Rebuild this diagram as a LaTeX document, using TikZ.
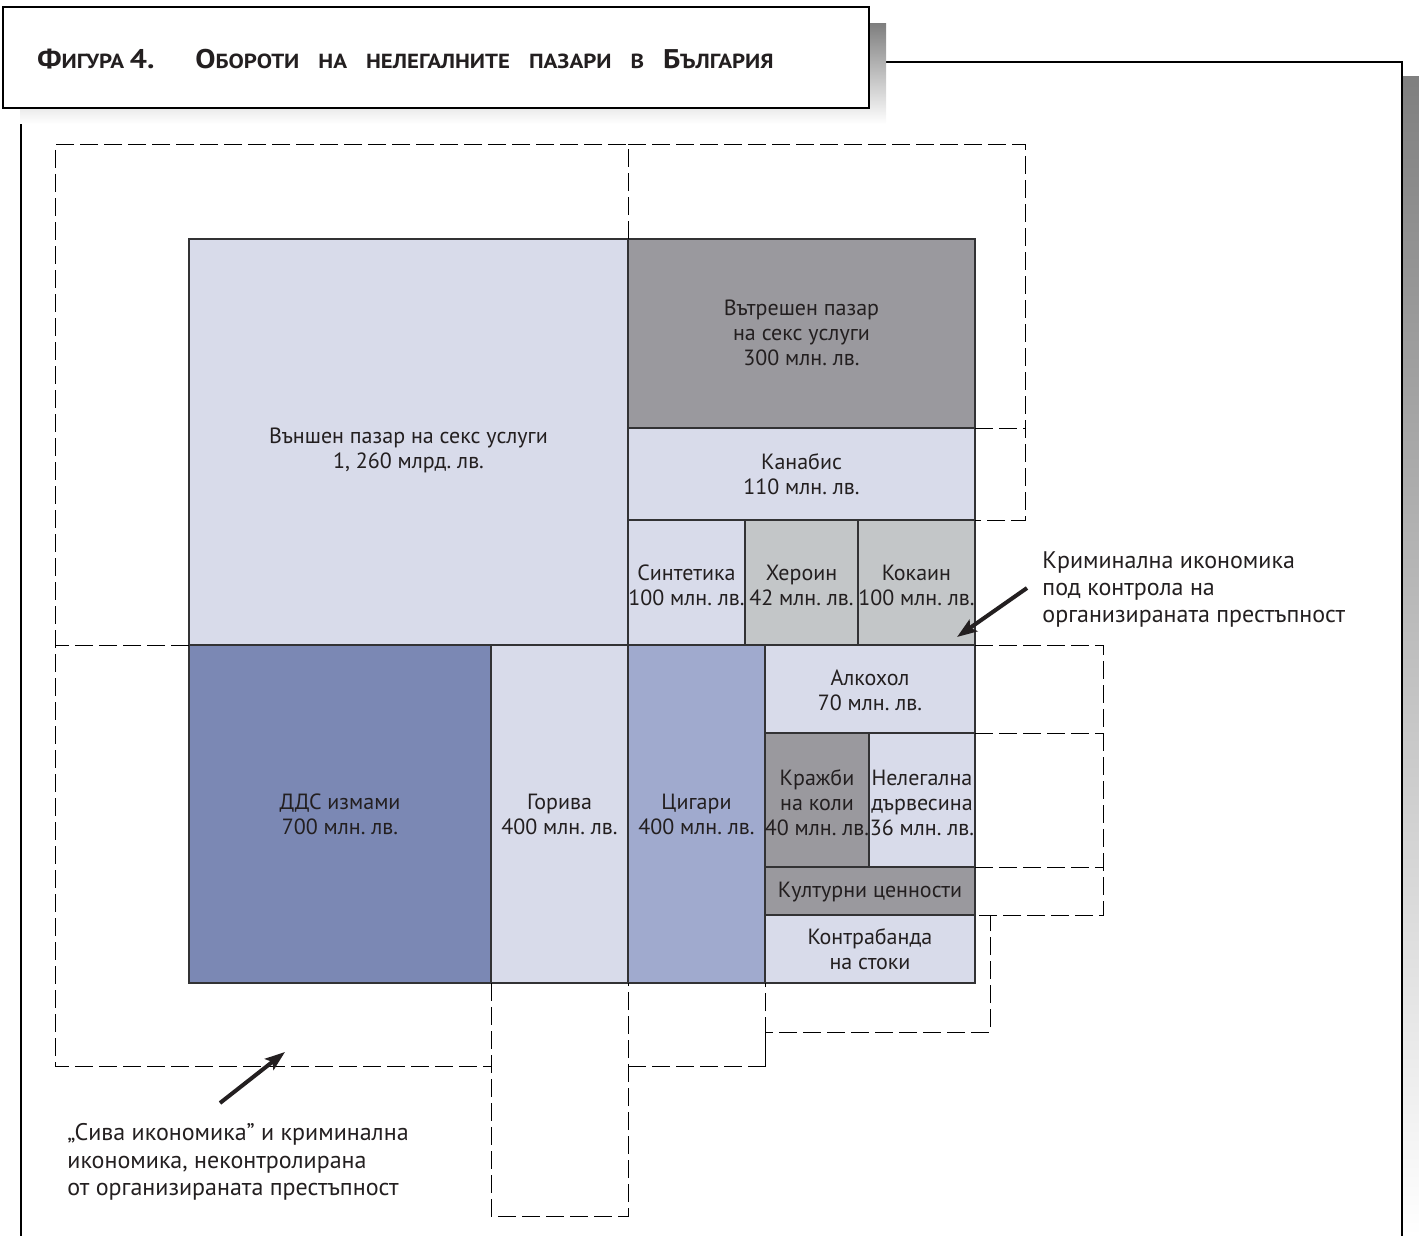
\documentclass[tikz,border=0pt]{standalone}
\usepackage{fontspec}
\setmainfont{PT Sans}
\newfontfamily\titlefont[FakeStretch=1.12]{PT Sans}
\usetikzlibrary{arrows.meta}
\definecolor{lav}{RGB}{216,219,234}
\definecolor{darkg}{RGB}{154,153,158}
\definecolor{lightg}{RGB}{195,198,200}
\definecolor{dds}{RGB}{123,136,180}
\definecolor{cig}{RGB}{160,170,206}
\definecolor{shade}{RGB}{189,191,193}
\definecolor{edge}{RGB}{50,50,52}
\definecolor{ink}{RGB}{35,31,32}
\newcommand\capA[1]{{\fontsize{13.5}{13.5}\selectfont #1}}
\newcommand\capB[1]{{\fontsize{10.2}{10.2}\selectfont #1}}
\newcommand\tgap{\hspace{9.5pt}}
\frenchspacing
\begin{document}
\begin{tikzpicture}[x=0.5pt,y=-0.5pt,
  cellbox/.style={draw=edge, line width=0.65pt},
  dashline/.style={draw=black, line width=0.5pt, dash pattern=on 9pt off 3pt},
  lbl/.style={align=center, text=ink, font=\fontsize{11}{12.5}\selectfont, inner sep=0pt},
  note/.style={align=left, text=ink, font=\fontsize{12}{13.7}\selectfont, inner sep=0pt, anchor=west},
  pointer/.style={draw=ink, line width=2pt, -{Stealth[length=10pt,width=7pt,inset=2pt]}},
  framel/.style={draw=black, line width=1.2pt},
]
\useasboundingbox (0,0) rectangle (1419,1236);
% outer frame and shadows
\fill[shade] (1403,77) rectangle (1419,1236);
\draw[framel] (21,124) -- (21,1236);
\draw[framel] (885,62) -- (1402,62) -- (1402,1236);
% title box
\fill[shade] (20,24) rectangle (886,124);
\draw[framel, fill=white] (3,7) rectangle (869,108);
\node[anchor=base west, inner sep=0pt, text=ink] (fig) at (37,69)
  {\titlefont\bfseries\capA{Ф}\capB{ИГУРА}\ \capA{4.}};
\node[anchor=base west, inner sep=0pt, text=ink] (title) at (195,69)
  {\titlefont\bfseries\capA{О}\capB{БОРОТИ\tgap НА\tgap НЕЛЕГАЛНИТЕ\tgap ПАЗАРИ\tgap В}\tgap\capA{Б}\capB{ЪЛГАРИЯ}};
% cells
\path[cellbox, fill=lav]    (189,239) rectangle (628,645);
\path[cellbox, fill=darkg]  (628,239) rectangle (975,428);
\path[cellbox, fill=lav]    (628,428) rectangle (975,520);
\path[cellbox, fill=lav]    (628,520) rectangle (745,645);
\path[cellbox, fill=lightg] (745,520) rectangle (858,645);
\path[cellbox, fill=lightg] (858,520) rectangle (975,645);
\path[cellbox, fill=dds]    (189,645) rectangle (491,983);
\path[cellbox, fill=lav]    (491,645) rectangle (628,983);
\path[cellbox, fill=cig]    (628,645) rectangle (765,983);
\path[cellbox, fill=lav]    (765,645) rectangle (975,733);
\path[cellbox, fill=darkg]  (765,733) rectangle (869,867);
\path[cellbox, fill=lav]    (869,733) rectangle (975,867);
\path[cellbox, fill=darkg]  (765,867) rectangle (975,915);
\path[cellbox, fill=lav]    (765,915) rectangle (975,983);
% labels
\node[lbl] (vanshen) at (408.5,450) {Външен пазар на секс услуги\\1, 260 млрд. лв.};
\node[lbl] (vatr) at (801.5,333) {Вътрешен пазар\\на секс услуги\\300 млн. лв.};
\node[lbl] (kanab) at (801.5,474) {Канабис\\110 млн. лв.};
\node[lbl] (sint) at (686.5,585) {Синтетика\\100 млн. лв.};
\node[lbl] (her) at (801.5,585) {Хероин\\42 млн. лв.};
\node[lbl] (kok) at (916.5,585) {Кокаин\\100 млн. лв.};
\node[lbl] (dds) at (340,814) {ДДС измами\\700 млн. лв.};
\node[lbl] (gor) at (559.5,814) {Горива\\400 млн. лв.};
\node[lbl] (cigs) at (696.5,814) {Цигари\\400 млн. лв.};
\node[lbl] (alk) at (870,690) {Алкохол\\70 млн. лв.};
\node[lbl] (kraz) at (817,803) {Кражби\\на коли\\40 млн. лв.};
\node[lbl] (darv) at (922,803) {Нелегална\\дървесина\\36 млн. лв.};
\node[lbl] (kult) at (870,892) {Културни ценности};
\node[lbl] (kontr) at (870,949) {Контрабанда\\на стоки};
% dashed regions
\draw[dashline] (628,239) -- (628,145) -- (55,145) -- (55,1066) -- (491,1066);
\draw[dashline] (628,145) -- (1025,145) -- (1025,520) -- (975,520);
\draw[dashline] (975,428) -- (1025,428);
\draw[dashline] (189,645) -- (55,645);
\draw[dashline] (491,983) -- (491,1216) -- (628,1216) -- (628,983);
\draw[dashline] (628,1066) -- (765,1066) -- (765,983);
\draw[dashline] (765,1066) -- (765,1032) -- (990,1032) -- (990,915);
\draw[dashline] (975,645) -- (1103,645) -- (1103,915) -- (975,915);
\draw[dashline] (975,733) -- (1103,733);
\draw[dashline] (975,867) -- (1103,867);
% notes and pointers
\node[note] (orgnote) at (1042,589.5) {Криминална икономика\\под контрола на\\организираната престъпност};
\node[note] (greynote) at (67,1162) {„Сива икономика” и криминална\\икономика, неконтролирана\\от организираната престъпност};
\coordinate (t1) at (1027,588);
\coordinate (h1) at (957,637);
\coordinate (t2) at (220,1103);
\coordinate (h2) at (285,1052);
\draw[pointer] (t1) -- (h1);
\draw[pointer] (t2) -- (h2);
\end{tikzpicture}
\end{document}
